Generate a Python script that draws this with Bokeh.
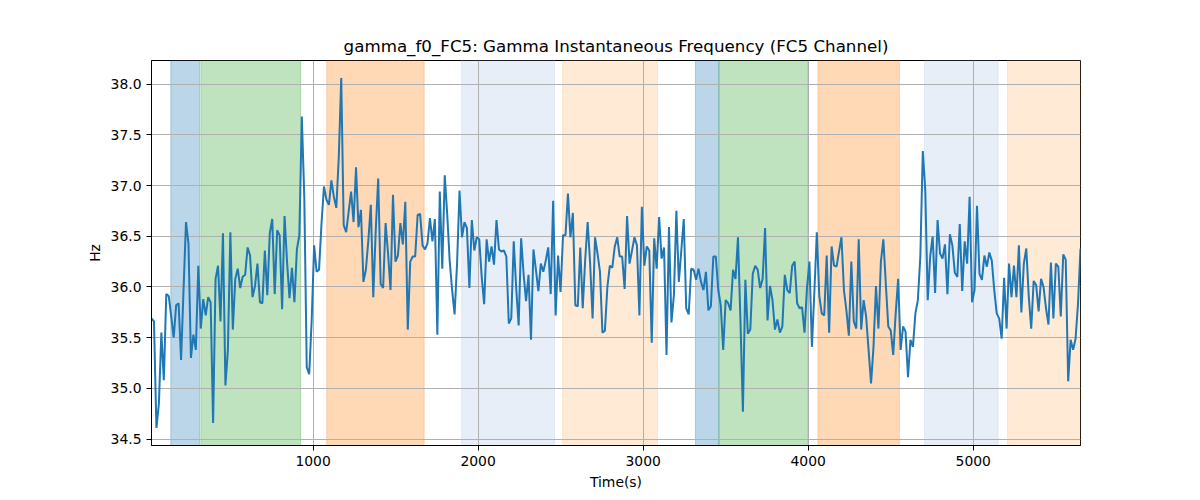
import numpy as np
from bokeh.plotting import figure
from bokeh.models import FixedTicker, NumeralTickFormatter, Range1d
from bokeh.embed import file_html
from bokeh.resources import INLINE

title_text = "gamma_f0_FC5: Gamma Instantaneous Frequency (FC5 Channel)"
x_label = "Time(s)"
y_label = "Hz"

t_start, t_end = 21, 5650

freq_values = [
    35.69, 35.66, 34.61, 34.85, 35.55, 35.08, 35.93, 35.91, 35.71, 35.50, 35.82, 35.84, 35.28, 35.97, 36.64, 36.43,
    35.30, 35.53, 35.38, 36.21, 35.59, 35.88, 35.72, 35.90, 35.85, 34.66, 36.08, 36.21, 35.66, 36.53, 35.03, 35.38,
    36.54, 35.58, 36.08, 36.18, 35.99, 36.10, 36.12, 36.39, 36.31, 35.90, 36.01, 36.23, 35.85, 35.84, 36.36, 35.92,
    36.53, 36.67, 35.93, 36.56, 36.51, 35.78, 36.70, 36.25, 35.89, 36.19, 35.85, 36.37, 36.51, 37.68, 36.89, 35.21,
    35.14, 35.67, 36.41, 36.15, 36.17, 36.63, 36.99, 36.86, 36.81, 37.05, 36.89, 36.78, 37.28, 38.06, 36.61, 36.54,
    36.74, 36.94, 36.64, 37.18, 36.59, 36.76, 36.05, 36.17, 36.46, 36.81, 35.90, 36.56, 37.07, 36.03, 35.99, 36.63,
    36.33, 35.97, 36.91, 36.25, 36.31, 36.63, 36.42, 36.84, 35.58, 36.25, 36.30, 36.30, 36.71, 36.72, 36.41, 36.37,
    36.43, 36.68, 36.45, 36.67, 35.53, 36.94, 36.18, 37.10, 36.72, 36.26, 35.97, 35.73, 36.23, 36.95, 36.49, 36.64,
    36.58, 35.99, 36.66, 36.36, 36.49, 36.47, 36.10, 35.83, 36.47, 36.25, 36.40, 36.22, 36.66, 36.37, 36.35, 36.36,
    36.30, 35.64, 35.69, 36.45, 35.99, 35.62, 36.48, 36.13, 35.86, 36.12, 35.48, 36.37, 36.17, 35.96, 36.23, 36.15,
    36.26, 36.39, 35.93, 36.85, 35.72, 36.31, 35.95, 36.51, 36.51, 36.92, 36.49, 36.73, 35.82, 35.81, 36.39, 35.79,
    36.27, 36.64, 36.23, 35.69, 36.49, 36.33, 36.15, 35.55, 35.57, 36.00, 36.21, 36.19, 36.40,
    36.49, 36.30, 36.30, 35.98, 36.70, 36.23, 36.36, 36.49, 36.41, 35.72, 36.79, 36.21, 36.40, 36.36, 35.45, 36.48,
    36.18, 36.69, 36.28, 36.39, 35.33, 36.59, 35.65, 35.92, 36.75, 36.05, 36.36, 36.67, 35.79, 35.73, 36.18, 36.17,
    36.07, 36.18, 36.05, 35.97, 36.15, 35.77, 35.81, 36.30, 36.30, 35.97, 35.82, 35.38, 35.87, 35.84, 35.77, 36.17,
    36.08, 36.49, 35.67, 34.77, 36.07, 35.54, 35.58, 36.13, 36.21, 36.17, 35.99, 36.08, 36.58, 35.67, 36.01, 35.87,
    35.58, 35.68, 35.55, 35.61, 36.12, 35.97, 35.94, 36.21, 36.25, 35.84, 35.79, 35.80, 35.55, 35.99, 36.25, 35.41,
    35.95, 36.54, 35.91, 35.74, 35.72, 36.31, 35.55, 36.40, 36.21, 36.20, 36.35, 36.49, 35.97, 35.77,
    35.52, 36.25, 35.66, 35.59, 36.47, 35.58, 35.87, 35.71, 35.38, 35.05, 35.41, 36.01, 35.59, 36.25, 36.47, 36.03,
    35.61, 35.57, 35.33, 35.74, 36.08, 35.38, 35.61, 35.56, 35.11, 35.48, 35.41, 35.74, 35.87, 36.30, 37.34, 36.96,
    35.87, 36.30, 36.50, 35.94, 36.66, 36.33, 36.28, 36.42, 35.93, 36.52, 36.41, 36.14, 36.10, 36.62, 35.96, 36.45,
    36.23, 36.89, 35.85, 35.97, 36.80, 36.13, 36.07, 36.31, 36.20, 36.34, 36.26, 35.97, 35.74, 35.69, 35.49, 36.09,
    35.59, 36.23, 35.90, 36.21, 35.90, 36.41, 35.75, 36.23, 36.38, 35.91, 35.59, 36.06, 36.02, 35.76, 36.08, 36.00,
    35.79, 35.63, 36.24, 35.69, 36.23, 36.20, 35.71, 36.32, 36.27, 35.07, 35.48, 35.38, 35.49, 35.84, 36.38,
]
times = np.linspace(t_start, t_end, len(freq_values))

span_starts = [138, 320, 1083, 1900, 2512, 3317, 3459, 4059, 4705, 5208]
span_ends = [312, 925, 1673, 2463, 3087, 3459, 3998, 4552, 5151, 5700]
span_colors = ["#1f77b4", "#2ca02c", "#ff7f0e", "#aec7e8", "#ffbb78",
               "#1f77b4", "#2ca02c", "#ff7f0e", "#aec7e8", "#ffbb78"]

y_ticks = [34.5, 35.0, 35.5, 36.0, 36.5, 37.0, 37.5, 38.0]
x_ticks = [1000, 2000, 3000, 4000, 5000]

vmin, vmax = min(freq_values), max(freq_values)
pad = (vmax - vmin) * 0.05

p = figure(width=1192, height=492, output_backend="svg", toolbar_location=None,
           x_range=Range1d(t_start, t_end), y_range=Range1d(vmin - pad, vmax + pad),
           min_border_left=151, min_border_right=112, min_border_top=60, min_border_bottom=46,
           title=title_text)

p.title.align = "center"
p.title.text_font = "DejaVu Sans"
p.title.text_font_size = "16.7px"
p.title.text_font_style = "normal"
p.title.text_color = "black"

p.quad(left=span_starts, right=span_ends, bottom=vmin - 1, top=vmax + 1,
       fill_color=span_colors, fill_alpha=0.3, line_color=span_colors, line_alpha=0.3,
       line_width=1, level="image")

p.line(times, freq_values, line_color="#1f77b4", line_width=2)

for ax in (p.xaxis, p.yaxis):
    ax.axis_line_color = "black"
    ax.major_tick_line_color = "black"
    ax.major_tick_in = 0
    ax.major_tick_out = 5
    ax.minor_tick_line_color = None
    ax.major_label_text_font = "DejaVu Sans"
    ax.major_label_text_font_size = "13.9px"
    ax.major_label_text_color = "black"
    ax.axis_label_text_font = "DejaVu Sans"
    ax.axis_label_text_font_size = "13.9px"
    ax.axis_label_text_font_style = "normal"
    ax.axis_label_text_color = "black"
    ax.major_label_standoff = 5

p.xaxis.ticker = FixedTicker(ticks=x_ticks)
p.yaxis.ticker = FixedTicker(ticks=y_ticks)
p.yaxis.formatter = NumeralTickFormatter(format="0.0")
p.xaxis.axis_label = x_label
p.yaxis.axis_label = y_label

p.grid.grid_line_color = "#b0b0b0"
p.grid.grid_line_width = 1
p.outline_line_color = "black"
p.outline_line_width = 1
p.outline_line_alpha = 1
p.background_fill_color = "white"
p.border_fill_color = "white"

open("out.html", "w").write(file_html(p, INLINE))
